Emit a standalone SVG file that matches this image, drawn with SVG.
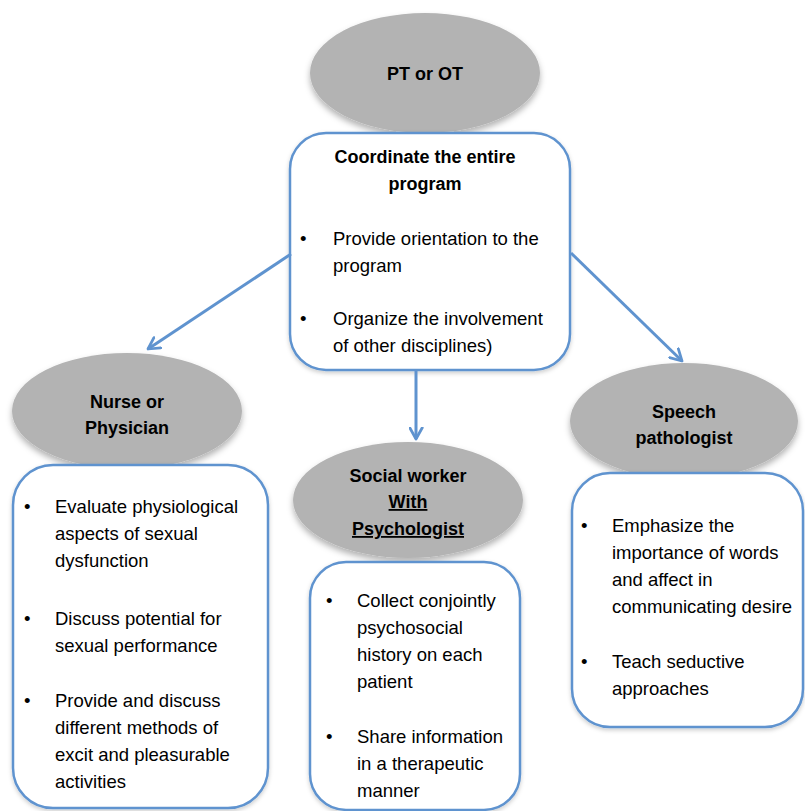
<svg xmlns="http://www.w3.org/2000/svg" width="805" height="811" viewBox="0 0 805 811">
<style>
.ell{fill:#b3b3b3;filter:url(#sh)}
.box{fill:#ffffff;stroke:#5f93cf;stroke-width:2.5;filter:url(#sh2)}
.h{font-family:"Liberation Sans",Arial,sans-serif;font-size:18px;font-weight:bold;fill:#000;text-anchor:middle}
.t{font-family:"Liberation Sans",Arial,sans-serif;font-size:18.5px;fill:#000}
.conn{stroke:#5f93cf;stroke-width:3;fill:none;marker-end:url(#ah)}
</style>
<defs>
<filter id="sh" x="-20%" y="-20%" width="140%" height="150%">
<feDropShadow dx="0" dy="4" stdDeviation="3" flood-color="#000" flood-opacity="0.3"/>
</filter>
<filter id="sh2" x="-10%" y="-10%" width="120%" height="120%">
<feDropShadow dx="0" dy="2" stdDeviation="2" flood-color="#000" flood-opacity="0.2"/>
</filter>
<marker id="ah" viewBox="0 0 12 12" refX="10" refY="6" markerWidth="5" markerHeight="5" orient="auto" markerUnits="strokeWidth">
<path d="M1,1 L10,6 L1,11" fill="none" stroke="#5f93cf" stroke-width="2.2" stroke-linecap="round" stroke-linejoin="round"/>
</marker>
</defs>

<g id="pt-ot">
<ellipse class="ell" cx="425" cy="73" rx="115" ry="60"/>
<text class="h" x="425" y="80">PT or OT</text>
</g>

<g id="coordinate">
<rect class="box" x="290" y="133" width="280" height="237" rx="36" ry="36"/>
<text class="h" x="425" y="163">Coordinate the entire</text>
<text class="h" x="425" y="190">program</text>
<text class="t" x="300" y="245">•</text>
<text class="t" x="333" y="245">Provide orientation to the</text>
<text class="t" x="333" y="272">program</text>
<text class="t" x="300" y="325">•</text>
<text class="t" x="333" y="325">Organize the involvement</text>
<text class="t" x="333" y="352">of other disciplines)</text>
</g>

<g id="connectors">
<line class="conn" x1="291" y1="254" x2="148" y2="349"/>
<line class="conn" x1="571" y1="253" x2="682" y2="361"/>
<line class="conn" x1="416" y1="370" x2="416" y2="439"/>
</g>

<g id="nurse">
<ellipse class="ell" cx="127" cy="411" rx="115" ry="58"/>
<text class="h" x="127" y="408">Nurse or</text>
<text class="h" x="127" y="434">Physician</text>
</g>
<g id="nurse-box">
<rect class="box" x="13" y="465" width="255" height="343" rx="40" ry="40"/>
<text class="t" x="24" y="513">•</text>
<text class="t" x="55" y="513">Evaluate physiological</text>
<text class="t" x="55" y="540">aspects of sexual</text>
<text class="t" x="55" y="567">dysfunction</text>
<text class="t" x="24" y="625">•</text>
<text class="t" x="55" y="625">Discuss potential for</text>
<text class="t" x="55" y="652">sexual performance</text>
<text class="t" x="24" y="707">•</text>
<text class="t" x="55" y="707">Provide and discuss</text>
<text class="t" x="55" y="734">different methods of</text>
<text class="t" x="55" y="761">excit and pleasurable</text>
<text class="t" x="55" y="788">activities</text>
</g>

<g id="social">
<ellipse class="ell" cx="408" cy="500" rx="115" ry="58"/>
<text class="h" x="408" y="482">Social worker</text>
<text class="h" x="408" y="508" text-decoration="underline">With</text>
<text class="h" x="408" y="535" text-decoration="underline">Psychologist</text>
</g>
<g id="social-box">
<rect class="box" x="310" y="562" width="210" height="248" rx="36" ry="36"/>
<text class="t" x="326" y="607">•</text>
<text class="t" x="357" y="607">Collect conjointly</text>
<text class="t" x="357" y="634">psychosocial</text>
<text class="t" x="357" y="661">history on each</text>
<text class="t" x="357" y="688">patient</text>
<text class="t" x="326" y="743">•</text>
<text class="t" x="357" y="743">Share information</text>
<text class="t" x="357" y="770">in a therapeutic</text>
<text class="t" x="357" y="797">manner</text>
</g>

<g id="speech">
<ellipse class="ell" cx="684" cy="421" rx="114" ry="58"/>
<text class="h" x="684" y="418">Speech</text>
<text class="h" x="684" y="444">pathologist</text>
</g>
<g id="speech-box">
<rect class="box" x="572" y="473" width="231" height="254" rx="38" ry="38"/>
<text class="t" x="581" y="532">•</text>
<text class="t" x="612" y="532">Emphasize the</text>
<text class="t" x="612" y="559">importance of words</text>
<text class="t" x="612" y="586">and affect in</text>
<text class="t" x="612" y="613">communicating desire</text>
<text class="t" x="581" y="668">•</text>
<text class="t" x="612" y="668">Teach seductive</text>
<text class="t" x="612" y="695">approaches</text>
</g>
</svg>
